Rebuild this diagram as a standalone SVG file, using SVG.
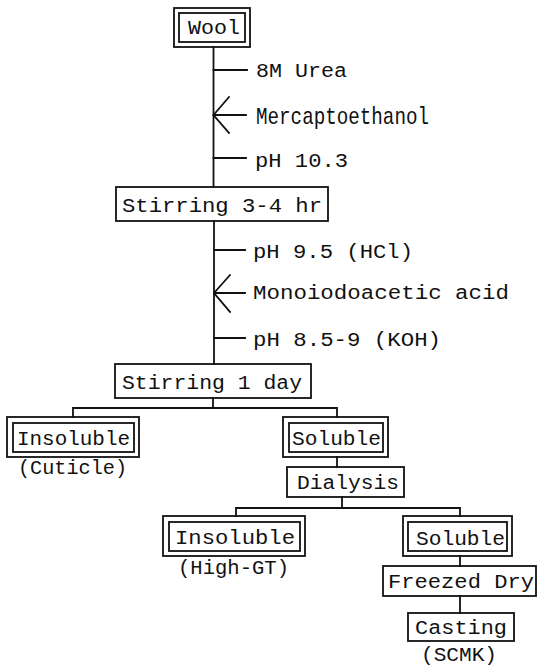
<svg xmlns="http://www.w3.org/2000/svg" width="537" height="668" viewBox="0 0 537 668">
<style>
.bg{fill:#fff}
.box{fill:none;stroke:#111;stroke-width:1.8}
.ln{fill:none;stroke:#111;stroke-width:1.8;stroke-linecap:square}
text{font-family:"Liberation Mono","DejaVu Sans Mono",monospace;font-size:20px;fill:#111}
.tall{font-size:24px}
</style>
<rect class="bg" x="0" y="0" width="537" height="668"/>
<g id="connectors">
<path class="ln" d="M213.5,47 V187"/>
<path class="ln" d="M213.5,70 H247 M213.5,158 H246"/>
<path class="ln" d="M213.5,115 H246 M213.5,115 L229,97 M213.5,115 L229,133"/>
<path class="ln" d="M214,221 V364"/>
<path class="ln" d="M214,250 H245 M214,338 H245"/>
<path class="ln" d="M214,293 H245 M214,293 L230,275 M214,293 L230,312"/>
<path class="ln" d="M213,398 V408 M73,417 V408 H337 V417"/>
<path class="ln" d="M337,457 V467"/>
<path class="ln" d="M342,497 V508 M236,516 V508 H460 V516"/>
<path class="ln" d="M460,556 V566 M460,596 V613"/>
</g>
<g id="n-wool">
<rect class="box" x="174" y="8" width="76" height="39"/>
<rect class="box" x="179" y="13" width="66" height="29"/>
<text x="188" y="34" textLength="52" lengthAdjust="spacingAndGlyphs">Wool</text>
</g>
<g id="l-urea"><text x="256" y="77" textLength="91" lengthAdjust="spacingAndGlyphs">8M Urea</text></g>
<g id="l-merc"><text class="tall" x="256" y="124" textLength="173" lengthAdjust="spacingAndGlyphs">Mercaptoethanol</text></g>
<g id="l-ph103"><text x="255" y="167" textLength="93" lengthAdjust="spacingAndGlyphs">pH 10.3</text></g>
<g id="n-stir1">
<rect class="box" x="116" y="187" width="212" height="34"/>
<text x="122" y="212" textLength="200" lengthAdjust="spacingAndGlyphs">Stirring 3-4 hr</text>
</g>
<g id="l-ph95"><text x="253" y="258" textLength="160" lengthAdjust="spacingAndGlyphs">pH 9.5 (HCl)</text></g>
<g id="l-mono"><text x="253" y="299" textLength="256" lengthAdjust="spacingAndGlyphs">Monoiodoacetic acid</text></g>
<g id="l-ph85"><text x="253" y="346" textLength="188" lengthAdjust="spacingAndGlyphs">pH 8.5-9 (KOH)</text></g>
<g id="n-stir2">
<rect class="box" x="115" y="364" width="196" height="34"/>
<text x="122" y="389" textLength="180" lengthAdjust="spacingAndGlyphs">Stirring 1 day</text>
</g>
<g id="n-insol1">
<rect class="box" x="7" y="417" width="132" height="40"/>
<rect class="box" x="13" y="423" width="121" height="29"/>
<text x="17" y="445" textLength="113" lengthAdjust="spacingAndGlyphs">Insoluble</text>
<text x="18" y="474" textLength="109" lengthAdjust="spacingAndGlyphs">(Cuticle)</text>
</g>
<g id="n-sol1">
<rect class="box" x="283" y="417" width="105" height="40"/>
<rect class="box" x="289" y="423" width="94" height="29"/>
<text x="292" y="445" textLength="89" lengthAdjust="spacingAndGlyphs">Soluble</text>
</g>
<g id="n-dialysis">
<rect class="box" x="287" y="467" width="117" height="30"/>
<text x="297" y="489" textLength="102" lengthAdjust="spacingAndGlyphs">Dialysis</text>
</g>
<g id="n-insol2">
<rect class="box" x="163" y="516" width="142" height="40"/>
<rect class="box" x="169" y="522" width="131" height="29"/>
<text x="175" y="544" textLength="120" lengthAdjust="spacingAndGlyphs">Insoluble</text>
<text x="178" y="574" textLength="111" lengthAdjust="spacingAndGlyphs">(High-GT)</text>
</g>
<g id="n-sol2">
<rect class="box" x="403" y="516" width="109" height="40"/>
<rect class="box" x="408" y="522" width="99" height="29"/>
<text x="416" y="545" textLength="89" lengthAdjust="spacingAndGlyphs">Soluble</text>
</g>
<g id="n-freeze">
<rect class="box" x="383" y="566" width="153" height="30"/>
<text x="388" y="588" textLength="146" lengthAdjust="spacingAndGlyphs">Freezed Dry</text>
</g>
<g id="n-cast">
<rect class="box" x="408" y="613" width="106" height="28"/>
<text x="415" y="634" textLength="92" lengthAdjust="spacingAndGlyphs">Casting</text>
<text x="421" y="661" textLength="76" lengthAdjust="spacingAndGlyphs">(SCMK)</text>
</g>
</svg>
